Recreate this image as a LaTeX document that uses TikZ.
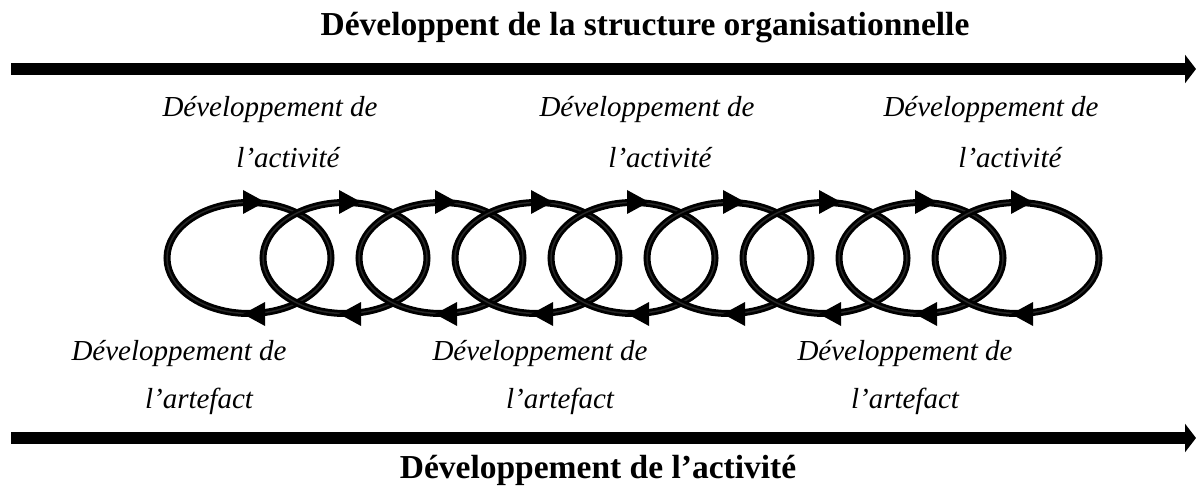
\documentclass[tikz,border=0pt]{standalone}
\usepackage{fontspec}
\setmainfont{Liberation Serif}
\usetikzlibrary{arrows.meta}
\begin{document}
\begin{tikzpicture}[x=1pt,y=-1pt,
  loopline/.style={line width=7pt,black},
  loopinner/.style={line width=1.5pt,black!85},
  tri/.style={fill=black},
  bigbar/.style={line width=12pt,-{Triangle[length=11pt,width=28pt]}},
  head/.style={font=\fontsize{33.5}{40}\selectfont\bfseries,inner sep=0pt},
  lab/.style={font=\fontsize{29}{34}\selectfont\itshape,inner sep=0pt}]
\useasboundingbox (0,0) rectangle (1196,494);
% bars
\coordinate (t1) at (11,69);
\coordinate (t2) at (1196,69);
\coordinate (b1) at (11,438);
\coordinate (b2) at (1196,438);
\draw[bigbar] (t1) -- (t2);
\draw[bigbar] (b1) -- (b2);
\node[head] (title) at (645,28) {Développent de la structure organisationnelle};
\node[head] (bottom) at (598,470) {Développement de l’activité};
% loops
\foreach \i in {0,...,8}{
  \pgfmathsetmacro{\cx}{249+96*\i}
  \draw[loopline] (\cx,258) ellipse [x radius=82, y radius=55.5];
  \draw[loopinner] (\cx,258) ellipse [x radius=82, y radius=55.5];
}
\foreach \i in {0,...,8}{
  \pgfmathsetmacro{\cx}{249+96*\i}
  \fill[tri] (\cx-6,190) -- (\cx+16,202) -- (\cx-6,214) -- cycle;
  \fill[tri] (\cx+16,302) -- (\cx-6,314) -- (\cx+16,326) -- cycle;
}
% labels top
\node[lab] (a1) at (270,110) {Développement de};
\node[lab] (a1b) at (288,158) {l’activité};
\node[lab] (a2) at (647,110) {Développement de};
\node[lab] (a2b) at (660,158) {l’activité};
\node[lab] (a3) at (991,110) {Développement de};
\node[lab] (a3b) at (1010,158) {l’activité};
% labels bottom
\node[lab] (r1) at (179,354) {Développement de};
\node[lab] (r1b) at (199,401) {l’artefact};
\node[lab] (r2) at (540,354) {Développement de};
\node[lab] (r2b) at (560,401) {l’artefact};
\node[lab] (r3) at (905,354) {Développement de};
\node[lab] (r3b) at (905,401) {l’artefact};
\end{tikzpicture}
\end{document}
